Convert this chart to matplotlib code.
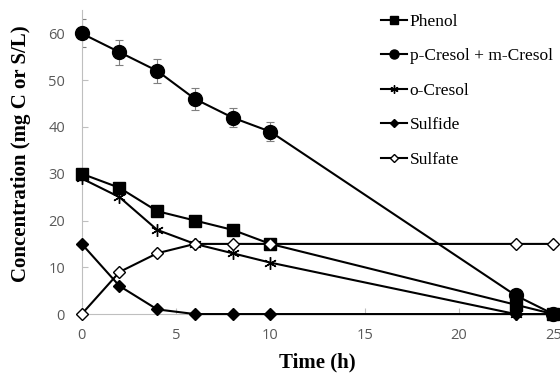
import matplotlib
matplotlib.use("Agg")
import matplotlib.pyplot as plt

# sampling times (h)
time_h = [0, 2, 4, 6, 8, 10, 23, 25]

phenol = [30, 27, 22, 20, 18, 15, 2, 0]
pm_cresol = [60, 56, 52, 46, 42, 39, 4, 0]
pm_cresol_err = [3, 2.7, 2.5, 2.3, 2, 2, 0, 0]
o_cresol = [29, 25, 18, 15, 13, 11, 0, 0]
sulfide = [15, 6, 1, 0, 0, 0, 0, 0]
sulfate = [0, 9, 13, 15, 15, 15, 15, 15]

x_ticks = [0, 5, 10, 15, 20, 25]
y_ticks = [0, 10, 20, 30, 40, 50, 60]

fig = plt.figure(figsize=(5.6, 3.73), dpi=100)
ax = fig.add_axes([0.146, 0.158, 0.842, 0.815])

ax.errorbar(time_h, pm_cresol, yerr=pm_cresol_err, fmt="none", ecolor="#7f7f7f",
            elinewidth=0.8, capsize=3, capthick=0.8, zorder=2)

ax.plot(time_h, phenol, "-s", color="black", lw=1.5, ms=9, mfc="black", label="Phenol", zorder=3, clip_on=False)
ax.plot(time_h, pm_cresol, "-o", color="black", lw=1.5, ms=10, mfc="black", label="p-Cresol + m-Cresol", zorder=3, clip_on=False)
ax.plot(time_h, o_cresol, "-", color="black", lw=1.5, marker=(6, 2, 0), ms=9, mew=1.0, label="o-Cresol", zorder=3, clip_on=False)
ax.plot(time_h, sulfide, "-D", color="black", lw=1.5, ms=6, mfc="black", label="Sulfide", zorder=3, clip_on=False)
ax.plot(time_h, sulfate, "-D", color="black", lw=1.5, ms=6, mfc="white", mew=1.0, label="Sulfate", zorder=4, clip_on=False)

ax.set_xlim(0, 25)
ax.set_ylim(0, 65)
ax.set_xticks(x_ticks)
ax.set_yticks(y_ticks)
for s in ["top", "right"]:
    ax.spines[s].set_visible(False)
for s in ["left", "bottom"]:
    ax.spines[s].set_color("#bfbfbf")
    ax.spines[s].set_linewidth(0.8)
ax.tick_params(direction="in", length=4, color="#bfbfbf", labelcolor="#595959", labelsize=10.5)
ax.tick_params(axis="x", pad=10)
ax.tick_params(axis="y", pad=12)
for lab in ax.get_xticklabels() + ax.get_yticklabels():
    lab.set_fontfamily("Open Sans")

serif = "Liberation Serif"
ax.set_xlabel("Time (h)", fontfamily=serif, fontweight="bold", fontsize=15)
ax.set_ylabel("Concentration (mg C or S/L)", fontfamily=serif, fontweight="bold", fontsize=15)
ax.xaxis.set_label_coords(0.5, -0.125)
ax.yaxis.set_label_coords(-0.108, 0.526)

leg = fig.legend(*ax.get_legend_handles_labels(), loc="upper left",
                 bbox_to_anchor=(374 / 560, 1 - 7 / 373), frameon=False,
                 prop={"family": serif, "size": 12.5}, handlelength=1.5, handletextpad=0.15,
                 labelspacing=1.05, markerscale=0.65, borderaxespad=0)

plt.savefig("out.png", dpi=100)
